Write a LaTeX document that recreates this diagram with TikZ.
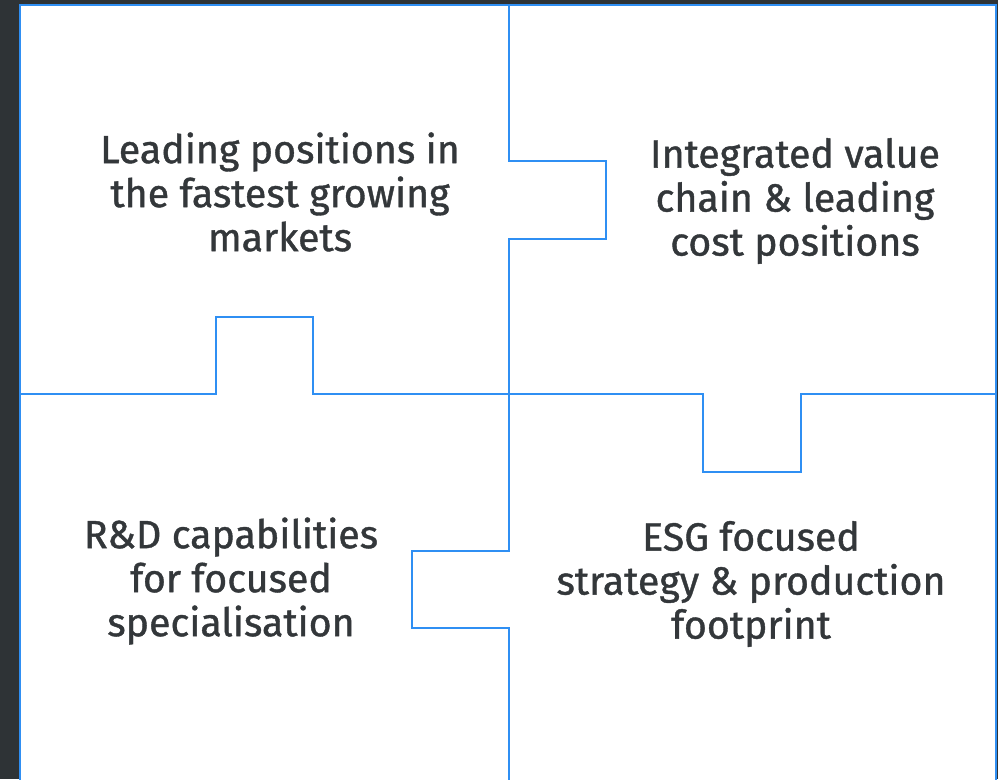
\documentclass[tikz,border=0pt]{standalone}
\usepackage{fontspec}
\setmainfont{Fira Sans}[FakeBold=1]
\definecolor{puzzleblue}{HTML}{2F8FF3}
\definecolor{inkgray}{HTML}{33373A}
\definecolor{framedark}{HTML}{2E3336}
\tikzset{
  piece/.style={draw=puzzleblue, line width=2pt, line join=miter},
  caption/.style={text=inkgray, align=center, font=\fontsize{29.5}{33}\selectfont}
}

\begin{document}
\begin{tikzpicture}[x=0.75pt, y=-0.75pt]
\useasboundingbox (0,0) rectangle (998,779);
\fill[framedark] (0,0) rectangle (998,779);
\fill[white] (20,5) rectangle (997,785);
\draw[piece] (20,785) -- (20,5) -- (996,5) -- (996,785);

\draw[piece] (509,5) -- (509,161) -- (606,161) -- (606,239) -- (509,239) -- (509,394)
  -- (509,551) -- (412,551) -- (412,628) -- (509,628) -- (509,785);
\draw[piece] (20,394) -- (216,394) -- (216,317) -- (313,317) -- (313,394) -- (703,394)
  -- (703,472) -- (801,472) -- (801,394) -- (996,394);

\node[caption] (growth) at (280,192) {Leading positions in\\the fastest growing\\markets};
\node[caption] (chain) at (795,201) {Integrated value\\chain \& leading\\cost positions};
\node[caption] (rnd) at (231,581) {R\&D capabilities\\for focused\\specialisation};
\node[caption] (esg) at (751,584) {ESG focused\\strategy \& production\\footprint};
\end{tikzpicture}
\end{document}
